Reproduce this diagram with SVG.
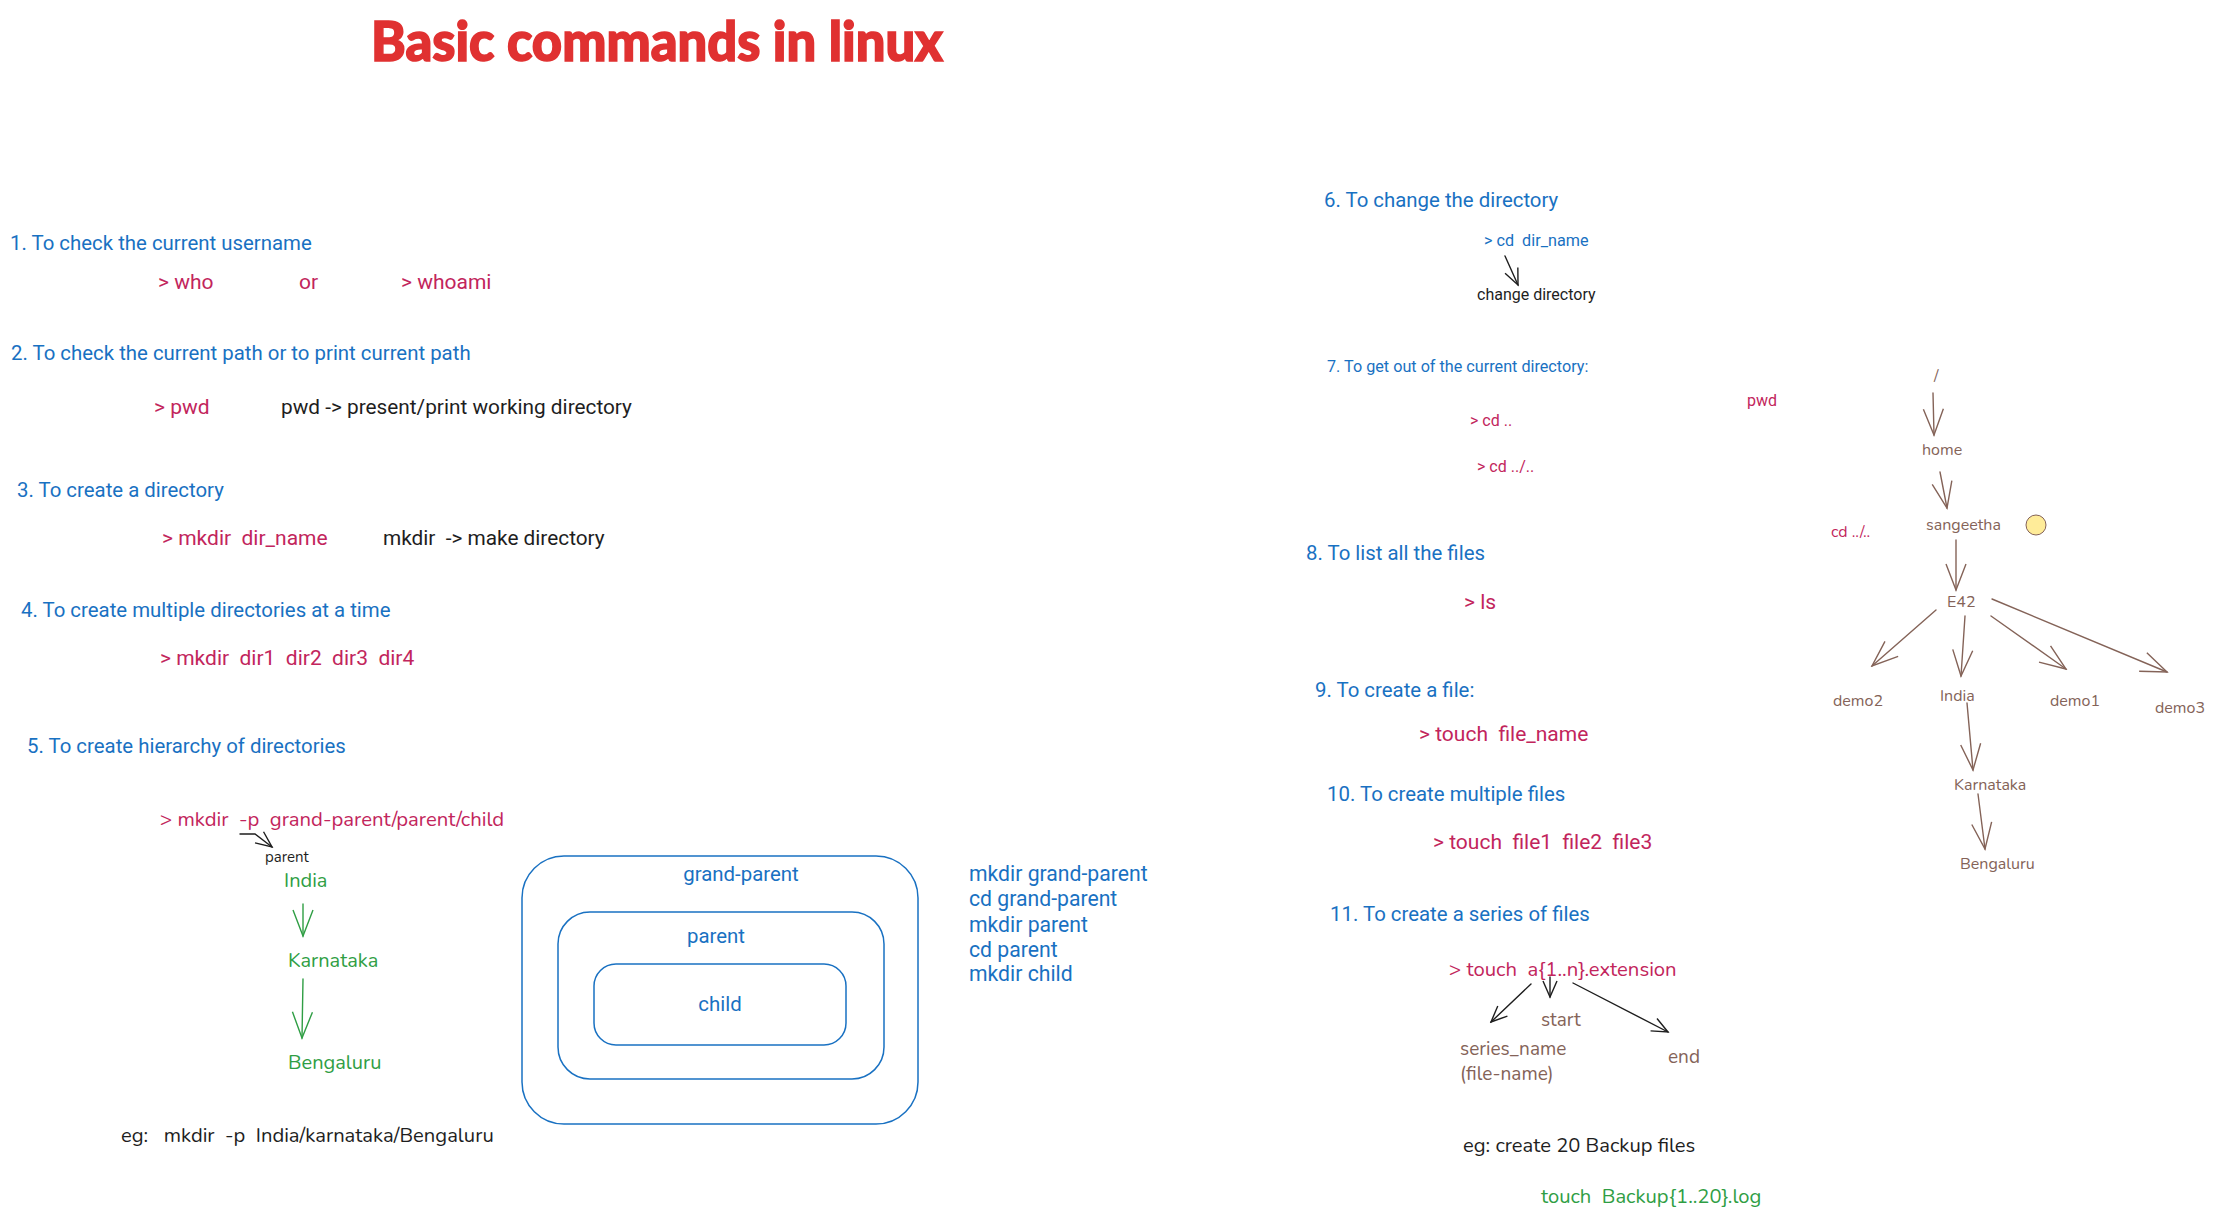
<svg xmlns="http://www.w3.org/2000/svg" width="2214" height="1218" viewBox="0 0 2214 1218">
<style>
text{font-family:Roboto,"Liberation Sans",sans-serif;}
.h{fill:#1971c2;font-size:20.4px;}
.hs{fill:#1971c2;font-size:16.2px;}
.c{fill:#c2255c;font-size:21px;}
.cs{fill:#c2255c;font-size:16px;}
.k{fill:#1e1e1e;font-size:20.8px;}
.ks{fill:#1e1e1e;font-size:16px;}
.n{font-family:Nunito,Lato,"Noto Sans",sans-serif;}
.c.n{font-size:20.3px;}
.g{fill:#2f9e44;font-size:20px;}
.b{fill:#846358;font-size:16px;}
.bl{fill:#846358;font-size:19px;}
.bx{fill:none;stroke:#1971c2;stroke-width:1.5;}
.ar{fill:none;stroke-width:1.4;stroke-linecap:round;}
</style>
<defs>
<marker id="mk" viewBox="0 0 20 20" refX="18" refY="10" markerWidth="20" markerHeight="20" markerUnits="userSpaceOnUse" orient="auto"><path d="M2,3 L18,10 L2,17" fill="none" stroke="#1e1e1e" stroke-width="1.4"/></marker>
<marker id="mg" viewBox="0 0 30 30" refX="28" refY="15" markerWidth="30" markerHeight="30" markerUnits="userSpaceOnUse" orient="auto"><path d="M2,5 L28,15 L2,25" fill="none" stroke="#2f9e44" stroke-width="1.4"/></marker>
<marker id="mb" viewBox="0 0 30 30" refX="28" refY="15" markerWidth="30" markerHeight="30" markerUnits="userSpaceOnUse" orient="auto"><path d="M2,5 L28,15 L2,25" fill="none" stroke="#846358" stroke-width="1.4"/></marker>
</defs>
<rect width="2214" height="1218" fill="#fff"/>

<g id="title"><text x="371" y="61" textLength="572" lengthAdjust="spacingAndGlyphs" style="font-family:Lato,'Noto Sans',sans-serif;font-weight:900;font-size:56px;fill:#e03131;stroke:#e03131;stroke-width:1.6">Basic commands in linux</text></g>

<g id="s1">
<text class="h" x="10" y="250">1. To check the current username</text>
<text class="c" x="158" y="289">&gt; who</text>
<text class="c" x="299" y="289">or</text>
<text class="c" x="401" y="289">&gt; whoami</text>
</g>
<g id="s2">
<text class="h" x="11" y="360">2. To check the current path or to print current path</text>
<text class="c" x="154" y="414">&gt; pwd</text>
<text class="k" x="281" y="414">pwd -&gt; present/print working directory</text>
</g>
<g id="s3">
<text class="h" x="17" y="497">3. To create a directory</text>
<text class="c" x="162" y="545" xml:space="preserve">&gt; mkdir  dir_name</text>
<text class="k" x="383" y="545" xml:space="preserve">mkdir  -&gt; make directory</text>
</g>
<g id="s4">
<text class="h" x="21" y="617">4. To create multiple directories at a time</text>
<text class="c" x="160" y="665" xml:space="preserve">&gt; mkdir  dir1  dir2  dir3  dir4</text>
</g>
<g id="s5">
<text class="h" x="27" y="753">5. To create hierarchy of directories</text>
<text class="c n" x="160" y="826" xml:space="preserve">&gt; mkdir  -p  grand-parent/parent/child</text>
<text class="ks n" x="265" y="862" style="font-size:15px">parent</text>
<text class="g n" x="284" y="887">India</text>
<text class="g n" x="288" y="967">Karnataka</text>
<text class="g n" x="288" y="1069">Bengaluru</text>
<text class="k n" x="121" y="1142" style="font-size:20.2px" xml:space="preserve">eg:   mkdir  -p  India/karnataka/Bengaluru</text>
</g>
<g id="boxes">
<rect class="bx" x="522" y="856" width="396" height="268" rx="42"/>
<rect class="bx" x="558" y="912" width="326" height="167" rx="32"/>
<rect class="bx" x="594" y="964" width="252" height="81" rx="22"/>
<text class="h" x="741" y="881" text-anchor="middle">grand-parent</text>
<text class="h" x="716" y="943" text-anchor="middle">parent</text>
<text class="h" x="720" y="1011" text-anchor="middle">child</text>
</g>
<g id="cmds" style="font-size:21.2px">
<text class="h" x="969" y="881" style="font-size:21.2px">mkdir grand-parent</text>
<text class="h" x="969" y="906" style="font-size:21.2px">cd grand-parent</text>
<text class="h" x="969" y="932" style="font-size:21.2px">mkdir parent</text>
<text class="h" x="969" y="957" style="font-size:21.2px">cd parent</text>
<text class="h" x="969" y="981" style="font-size:21.2px">mkdir child</text>
</g>

<g id="s6">
<text class="h" x="1324" y="207">6. To change the directory</text>
<text class="hs" x="1484" y="246" xml:space="preserve">&gt; cd  dir_name</text>
<text class="ks" x="1477" y="300">change directory</text>
</g>
<g id="s7">
<text class="hs" x="1327" y="372">7. To get out of the current directory:</text>
<text class="cs" x="1470" y="426">&gt; cd ..</text>
<text class="cs" x="1477" y="472">&gt; cd ../..</text>
<text class="cs" x="1747" y="406">pwd</text>
</g>
<g id="s8">
<text class="h" x="1306" y="560">8. To list all the files</text>
<text class="c" x="1464" y="609">&gt; ls</text>
</g>
<g id="s9">
<text class="h" x="1315" y="697">9. To create a file:</text>
<text class="c" x="1419" y="741" xml:space="preserve">&gt; touch  file_name</text>
</g>
<g id="s10">
<text class="h" x="1327" y="801">10. To create multiple files</text>
<text class="c" x="1433" y="849" xml:space="preserve">&gt; touch  file1  file2  file3</text>
</g>
<g id="s11">
<text class="h" x="1330" y="921">11. To create a series of files</text>
<text class="c n" x="1449" y="976" xml:space="preserve">&gt; touch  a{1..n}.extension</text>
<text class="bl n" x="1541" y="1026">start</text>
<text class="bl n" x="1460" y="1055">series_name</text>
<text class="bl n" x="1460" y="1080">(file-name)</text>
<text class="bl n" x="1668" y="1063">end</text>
<text class="k n" x="1463" y="1152" style="font-size:20.2px">eg: create 20 Backup files</text>
<text class="g n" x="1541" y="1203" style="font-size:20.2px" xml:space="preserve">touch  Backup{1..20}.log</text>
</g>

<g id="tree">
<text class="b n" x="1934" y="381">/</text>
<text class="b n" x="1922" y="455">home</text>
<text class="b n" x="1926" y="530">sangeetha</text>
<circle cx="2036" cy="525" r="10" fill="#ffec99" stroke="#846358" stroke-width="1"/>
<text class="cs n" x="1831" y="537">cd ../..</text>
<text class="b n" x="1947" y="607">E42</text>
<text class="b n" x="1833" y="706">demo2</text>
<text class="b n" x="1940" y="701">India</text>
<text class="b n" x="2050" y="706">demo1</text>
<text class="b n" x="2155" y="713">demo3</text>
<text class="b n" x="1954" y="790">Karnataka</text>
<text class="b n" x="1960" y="869">Bengaluru</text>
</g>

<g id="connectors">
<path class="ar" stroke="#1e1e1e" d="M240,834 L255,834 L272,847" marker-end="url(#mk)"/>
<path class="ar" stroke="#2f9e44" d="M303,904 L303,936" marker-end="url(#mg)"/>
<path class="ar" stroke="#2f9e44" d="M303,979 L302,1038" marker-end="url(#mg)"/>
<path class="ar" stroke="#1e1e1e" d="M1505,256 L1518,285" marker-end="url(#mk)"/>
<path class="ar" stroke="#1e1e1e" d="M1531,984 L1491,1022" marker-end="url(#mk)"/>
<path class="ar" stroke="#1e1e1e" d="M1550,977 L1550,997" marker-end="url(#mk)"/>
<path class="ar" stroke="#1e1e1e" d="M1573,983 L1668,1032" marker-end="url(#mk)"/>
<path class="ar" stroke="#846358" d="M1933,393 L1934,435" marker-end="url(#mb)"/>
<path class="ar" stroke="#846358" d="M1940,472 L1947,508" marker-end="url(#mb)"/>
<path class="ar" stroke="#846358" d="M1956,540 L1956,590" marker-end="url(#mb)"/>
<path class="ar" stroke="#846358" d="M1936,610 L1872,666" marker-end="url(#mb)"/>
<path class="ar" stroke="#846358" d="M1965,616 L1961,676" marker-end="url(#mb)"/>
<path class="ar" stroke="#846358" d="M1991,616 L2066,669" marker-end="url(#mb)"/>
<path class="ar" stroke="#846358" d="M1992,599 L2167,672" marker-end="url(#mb)"/>
<path class="ar" stroke="#846358" d="M1967,703 L1973,770" marker-end="url(#mb)"/>
<path class="ar" stroke="#846358" d="M1978,794 L1985,849" marker-end="url(#mb)"/>
</g>
</svg>
